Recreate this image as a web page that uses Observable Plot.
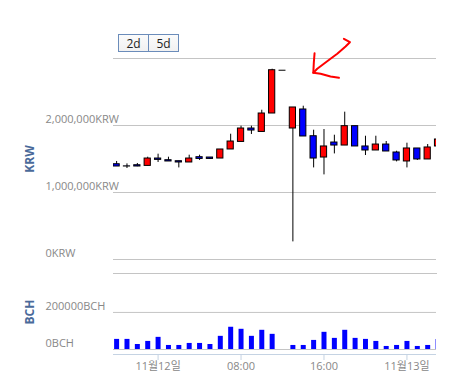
<!DOCTYPE html>
<html><head><meta charset="utf-8">
<script src="https://cdn.jsdelivr.net/npm/d3@7"></script>
<script src="https://cdn.jsdelivr.net/npm/@observablehq/plot@0.6"></script>
<style>
body{margin:0;background:#fff;font-family:"Open Sans","Noto Sans CJK KR",sans-serif;}
#wrap{position:relative;width:459px;height:381px;overflow:hidden;background:#fff;}
#price,#vol{position:absolute;left:0;}
#price{top:0px}
#vol{top:260px}
.ylab{position:absolute;left:28.5px;font-weight:bold;font-size:12px;color:#4a6a9a;transform:translate(-50%,-50%) rotate(-90deg);white-space:nowrap;}
.btns{position:absolute;left:118px;top:34px;height:16px;border:1px solid #6b8cba;display:flex;background:linear-gradient(#fbfbfb,#f1f1f1);font-size:12px;color:#222;z-index:2;}
.btns div{height:16px;line-height:17px;box-sizing:border-box;text-align:center;}
.b1{width:30px;border-right:1px solid #6b8cba;}
.b2{width:29px;}
</style>
</head><body>
<div id="wrap">
  <div id="price"></div>
  <div id="vol"></div>
  <div class="btns"><div class="b1">2d</div><div class="b2">5d</div></div>
  <div class="ylab" style="top:158.5px">KRW</div>
  <div class="ylab" style="top:311.5px">BCH</div>
</div>
<script>
// hourly candles (UTC)
const times = ["2017-11-11T20:00","2017-11-11T21:00","2017-11-11T22:00","2017-11-11T23:00",
  "2017-11-12T00:00","2017-11-12T01:00","2017-11-12T02:00","2017-11-12T03:00","2017-11-12T04:00",
  "2017-11-12T05:00","2017-11-12T06:00","2017-11-12T07:00","2017-11-12T08:00","2017-11-12T09:00",
  "2017-11-12T10:00","2017-11-12T11:00","2017-11-12T12:00","2017-11-12T13:00","2017-11-12T14:00",
  "2017-11-12T15:00","2017-11-12T16:00","2017-11-12T17:00","2017-11-12T18:00","2017-11-12T19:00",
  "2017-11-12T20:00","2017-11-12T21:00","2017-11-12T22:00","2017-11-12T23:00","2017-11-13T00:00",
  "2017-11-13T01:00","2017-11-13T02:00","2017-11-13T03:00"];
const opens  = [1422000,1390000,1407000,1397000,1507000,1482000,1467000,1448000,1527000,1522000,1507000,1642000,1755000,1955000,1904000,2179000,2825000,1955000,2239000,1840000,1522000,1746000,1701000,1990000,1687000,1627000,1716000,1597000,1463000,1657000,1493000,1687000];
const highs  = [1463000,1427000,1433000,1527000,1572000,1527000,1467000,1557000,1557000,1522000,1642000,1870000,1990000,1990000,2228000,2840000,2825000,2269000,2288000,1930000,1940000,1855000,2199000,1990000,1840000,1840000,1761000,1616000,1736000,1657000,1716000,1791000];
const lows   = [1388000,1358000,1385000,1397000,1448000,1463000,1367000,1448000,1478000,1493000,1507000,1642000,1755000,1866000,1904000,2179000,2825000,263000,1836000,1367000,1263000,1576000,1701000,1687000,1552000,1627000,1612000,1457000,1367000,1478000,1493000,1687000];
const closes = [1388000,1388000,1388000,1507000,1487000,1463000,1448000,1507000,1501000,1501000,1642000,1761000,1955000,1925000,2179000,2825000,2825000,2269000,1836000,1507000,1687000,1701000,1990000,1687000,1627000,1716000,1612000,1478000,1657000,1493000,1672000,1791000];
const volumes = [54500,54500,27000,43600,65500,21800,21800,32700,32700,27000,71000,120000,109000,71000,103600,81800,0,21800,21800,49000,92700,60000,103600,60000,54500,43600,16400,21800,43600,16400,21800,54500];

const xDomain = ["2017-11-11T19:42","2017-11-13T02:51"];
const xTicks = ["2017-11-12T00:00","2017-11-12T08:00","2017-11-12T16:00","2017-11-13T00:00"];
const xTickLabels = ["11월12일","08:00","16:00","11월13일"];
const priceGrid = [0,1000000,2000000,3000000];
const priceTicks = [0,1000000,2000000];
const volGrid = [0,200000];
const volTicks = [0,200000];
const volTop = 410000;

// hand-drawn red arrow (hours after 2017-11-12 00:00 UTC, price KRW)
const arrowShaftH = [17.92,18.50,18.08,17.28,16.63,15.99,15.35,14.97];
const arrowShaftP = [3294000,3243000,3179000,3070000,2996000,2921000,2846000,2787000];
const arrowHeadH = [15.09,15.02,14.97,15.67,16.63,17.44];
const arrowHeadP = [3079000,2940000,2787000,2772000,2731000,2712000];

const utc = s => new Date(s + ":00Z");
const base = utc("2017-11-12T00:00");
const shift = (d, m) => new Date(+d + m * 60000);
const candles = times.map((s, i) => ({t: utc(s), open: opens[i], high: highs[i], low: lows[i], close: closes[i], v: volumes[i]}));
const bodyColor = d => d.close > d.open ? "#ff0000" : d.close < d.open ? "#0000ff" : "#000000";
const shaft = arrowShaftH.map((h, i) => ({t: new Date(+base + h * 3600000), p: arrowShaftP[i]}));
const head = arrowHeadH.map((h, i) => ({t: new Date(+base + h * 3600000), p: arrowHeadP[i]}));
const dom = xDomain.map(utc);
const tickDates = xTicks.map(utc);
const tickLabel = d => xTickLabels[tickDates.findIndex(t => +t === +d)];
const font = '"Open Sans","Noto Sans CJK KR",sans-serif';
const fmtK = d3.format(",");

const price = Plot.plot({
  width: 459, height: 270,
  marginLeft: 113, marginRight: 23, marginTop: 58, marginBottom: 11,
  x: {type: "utc", domain: dom, axis: null, label: null},
  y: {domain: [0, 3000000], axis: null, label: null},
  color: {type: "identity"},
  style: {background: "transparent", fontFamily: font, fontSize: "11px", color: "#888", overflow: "visible"},
  marks: [
    Plot.ruleY(priceGrid, {stroke: "#c4c4c4"}),
    Plot.axisY({ticks: priceTicks, label: null, tickSize: 0, tickPadding: 0, textAnchor: "start", dx: -68, dy: -6, tickFormat: d => fmtK(d) + "KRW", fill: "#888", fontSize: 11}),
    Plot.ruleX(candles, {x: "t", y1: "low", y2: "high", stroke: "#000", clip: true}),
    Plot.rect(candles, {x1: d => shift(d.t, -18), x2: d => shift(d.t, 18), y1: "open", y2: "close", fill: bodyColor, stroke: "#000", clip: true}),
    Plot.ruleY(candles.filter(d => d.open === d.close), {x1: d => shift(d.t, -20), x2: d => shift(d.t, 20), y: "close", stroke: "#000", clip: true}),
    Plot.line(shaft, {x: "t", y: "p", stroke: "#ff0000", strokeWidth: 2, strokeLinejoin: "round", strokeLinecap: "round"}),
    Plot.line(head, {x: "t", y: "p", stroke: "#ff0000", strokeWidth: 2, strokeLinejoin: "round", strokeLinecap: "round"})
  ]
});
document.getElementById("price").appendChild(price);

const vol = Plot.plot({
  width: 459, height: 121,
  marginLeft: 113, marginRight: 23, marginTop: 13, marginBottom: 32,
  x: {type: "utc", domain: dom, axis: null, label: null},
  y: {domain: [0, volTop], axis: null, label: null},
  style: {background: "transparent", fontFamily: font, fontSize: "11px", color: "#888", overflow: "visible"},
  marks: [
    Plot.frame({anchor: "top", stroke: "#c4c4c4"}),
    Plot.ruleY(volGrid, {stroke: "#c4c4c4"}),
    Plot.ruleY([0], {stroke: "#c5d3e3", dy: 5}),
    Plot.axisY({ticks: volTicks, label: null, tickSize: 0, tickPadding: 0, textAnchor: "start", dx: -68, dy: -6, tickFormat: d => d + "BCH", fill: "#888", fontSize: 11}),
    Plot.ruleX(candles.filter(d => d.v > 0), {x: "t", y1: 0, y2: "v", stroke: "#0000ff", strokeWidth: 5, clip: true}),
    Plot.axisX({ticks: tickDates, label: null, tickSize: 6, tickPadding: 2, dy: 5, tickFormat: tickLabel, stroke: "#c5d3e3", fill: "#888", fontSize: 11})
  ]
});
document.getElementById("vol").appendChild(vol);
</script>
</body></html>
